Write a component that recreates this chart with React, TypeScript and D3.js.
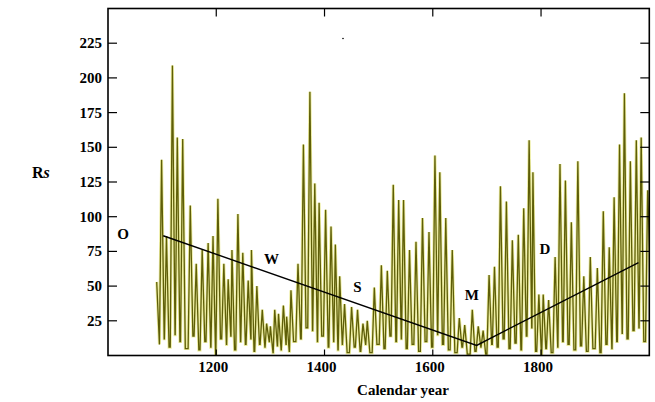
import React from "react";
import * as d3 from "d3";

// Sunspot number reconstruction: cycle peaks and the trough before each peak
const peakYears = [1099,1108,1119,1128,1138,1152,1163,1174,1185,1194,1203,1214,1222,1229,1240,1249,1259,1265,1275,1285,1293,1300,1308,1315,1324,1330,1338,1351,1361,1373,1382,1390,1402,1412,1420,1428,1437,1450,1461,1471,1479,1492,1505,1516,1527,1537,1546,1557,1569,1581,1593,1604,1613,1624,1636,1649,1659,1673,1684,1693,1704,1714,1725,1736,1747,1758,1768,1778,1785,1796,1804,1814,1826,1835,1845,1856,1868,1879,1891,1904,1915,1926,1935,1945,1954,1965,1976,1985,1997];
const peakValues = [141,86,209,157,156,108,66,76,81,86,113,66,55,76,102,74,54,76,50,33,23,21,33,30,36,28,47,66,152,190,124,110,105,93,80,57,37,35,33,23,25,49,65,61,123,112,112,76,82,99,89,144,132,99,76,27,22,33,21,18,58,64,122,111,83,87,106,155,132,44,44,40,71,138,126,96,140,57,71,63,104,78,114,152,189,140,155,157,119];
const troughValues = [8,12,6,15,10,5,14,4,10,6,0,12,8,14,4,10,8,12,3,8,6,10,2,7,4,8,3,10,12,20,18,10,14,6,10,4,8,2,6,3,8,2,8,5,14,10,12,5,8,3,10,6,15,8,4,2,6,1,3,6,1,8,6,12,5,9,4,14,20,3,0,5,2,6,10,8,4,7,3,5,2,8,5,10,16,12,18,20,10];
const startYear = 1090;
const startValue = 53;
const endYear = 1999.5;
const endValue = 60;

// Linear trend segments
const trendYears = [1102, 1681, 1980];
const trendValues = [86.3, 7.3, 67];

const yTicks = [25, 50, 75, 100, 125, 150, 175, 200, 225];
const xTicks = [1200, 1400, 1600, 1800];

const periodLabels = ["O", "W", "S", "M", "D"];
const periodYears = [1028, 1302, 1461, 1672, 1807];
const periodValues = [84, 66, 46, 40, 73];

export default function App() {
  const W = 655, H = 402;
  const left = 108, right = 649.3, top = 8.5, bottom = 355.5;
  const x = d3.scaleLinear().domain([1000, 2000]).range([left, right]);
  const y = d3.scaleLinear().domain([0, 250]).range([bottom, top]);

  // spike shape (style): years of rise before and fall after each peak
  const rise = 4, fall = 4.8;
  const pts: [number, number][] = [[startYear, startValue]];
  peakYears.forEach((p, i) => {
    const before = troughValues[i];
    const after = i + 1 < troughValues.length ? troughValues[i + 1] : endValue;
    pts.push([Math.max(p - rise, pts[pts.length - 1][0] + 0.4), before]);
    pts.push([p, peakValues[i]]);
    pts.push([p + fall, after]);
  });
  pts.push([endYear, endValue]);

  const line = d3.line<[number, number]>().x(d => x(d[0])).y(d => y(d[1]));
  const dataPath = line(pts) || "";
  const trend: [number, number][] = trendYears.map((t, i) => [t, trendValues[i]]);
  const trendPath = line(trend) || "";

  const font = "'Liberation Serif', 'DejaVu Serif', serif";

  return (
    <svg width={W} height={H} style={{ position: "absolute", left: 0, top: 0, background: "#fff" }}>
      <rect x={0} y={0} width={W} height={H} fill="#fff" />
      <defs>
        <clipPath id="plot">
          <rect x={left} y={top} width={right - left} height={bottom - top} />
        </clipPath>
      </defs>
      <g clipPath="url(#plot)">
        <path d={dataPath} fill="none" stroke="#e6e67c" strokeWidth={3} strokeOpacity={0.75} />
        <path d={dataPath} fill="none" stroke="#5e5e08" strokeWidth={1.3} />
      </g>
      <path d={trendPath} fill="none" stroke="#000" strokeWidth={1.4} />
      {/* frame */}
      <rect x={left} y={top} width={right - left} height={bottom - top} fill="none" stroke="#000" strokeWidth={1.6} />
      {/* y ticks */}
      {yTicks.map(t => (
        <g key={"y" + t}>
          <line x1={left} x2={left + 9} y1={y(t)} y2={y(t)} stroke="#000" strokeWidth={1.2} />
          <line x1={right - 9} x2={right} y1={y(t)} y2={y(t)} stroke="#000" strokeWidth={1.2} />
          <text x={left - 6} y={y(t) + 5} textAnchor="end" fontFamily={font} fontWeight="bold" fontSize={15}>{t}</text>
        </g>
      ))}
      {/* x ticks */}
      {xTicks.map(t => (
        <g key={"x" + t}>
          <line x1={x(t)} x2={x(t)} y1={top} y2={top + 8} stroke="#000" strokeWidth={1.2} />
          <line x1={x(t)} x2={x(t)} y1={bottom} y2={bottom - 6} stroke="#000" strokeWidth={1.2} />
          <text x={x(t) - 3} y={bottom + 16} textAnchor="middle" fontFamily={font} fontWeight="bold" fontSize={15}>{t}</text>
        </g>
      ))}
      <text x={403} y={395} textAnchor="middle" fontFamily={font} fontWeight="bold" fontSize={15}>Calendar year</text>
      <text x={32} y={178} fontFamily={font} fontWeight="bold" fontSize={16}>R<tspan fontStyle="italic">s</tspan></text>
      {periodLabels.map((l, i) => (
        <text key={l} x={x(periodYears[i])} y={y(periodValues[i])} textAnchor="middle" fontFamily={font} fontWeight="bold" fontSize={15}>{l}</text>
      ))}
      <circle cx={343} cy={38.5} r={0.8} fill="#000" />
    </svg>
  );
}
